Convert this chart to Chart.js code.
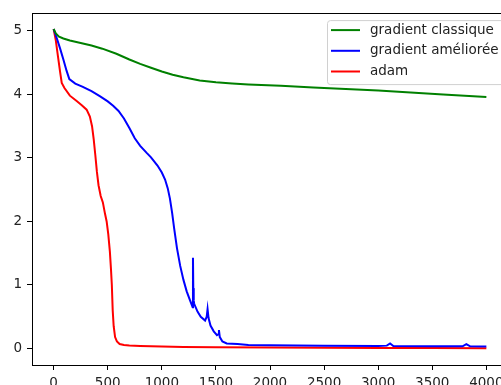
<!DOCTYPE html>
<html lang="fr">
<head>
<meta charset="UTF-8">
<title>Comparaison des descentes de gradient</title>
<script src="https://cdn.jsdelivr.net/npm/chart.js"></script>
<style>
  html, body { margin: 0; padding: 0; overflow: hidden; background: #fff; }
</style>
</head>
<body>
<canvas id="lossChart" width="510" height="385"></canvas>
<script>
// iterations / loss
const classiqueIter = [0, 20, 50, 90, 150, 250, 350, 450, 580, 700, 800, 900, 1000, 1100, 1200, 1350, 1500, 1650, 1800, 2100, 2400, 2700, 3000, 3300, 3600, 4000];
const classiqueLoss = [5.03, 4.96, 4.91, 4.88, 4.85, 4.81, 4.77, 4.72, 4.64, 4.55, 4.48, 4.42, 4.36, 4.31, 4.27, 4.22, 4.19, 4.17, 4.155, 4.135, 4.11, 4.085, 4.06, 4.03, 4.0, 3.96];

const amelioreIter = [0, 30, 60, 90, 120, 145, 200, 270, 350, 430, 500, 550, 600, 650, 700, 750, 800, 860, 900, 960, 1000, 1030, 1055, 1075, 1095, 1115, 1140, 1170, 1200, 1230, 1260, 1285, 1288, 1291, 1295, 1300, 1330, 1360, 1400, 1415, 1423, 1432, 1450, 1480, 1510, 1520, 1528, 1536, 1560, 1600, 1700, 1800, 2000, 2500, 3000, 3080, 3110, 3140, 3500, 3780, 3815, 3850, 4000];
const amelioreLoss = [5.03, 4.88, 4.72, 4.55, 4.37, 4.24, 4.17, 4.12, 4.05, 3.97, 3.89, 3.82, 3.74, 3.62, 3.47, 3.31, 3.19, 3.08, 3.01, 2.88, 2.77, 2.66, 2.52, 2.36, 2.14, 1.88, 1.58, 1.3, 1.08, 0.9, 0.76, 0.65, 1.43, 0.95, 0.75, 0.7, 0.58, 0.50, 0.44, 0.50, 0.62, 0.48, 0.36, 0.27, 0.21, 0.22, 0.29, 0.18, 0.11, 0.08, 0.07, 0.055, 0.05, 0.045, 0.04, 0.045, 0.08, 0.04, 0.035, 0.035, 0.07, 0.035, 0.03];

const adamIter = [0, 20, 40, 60, 75, 100, 150, 210, 260, 305, 335, 355, 370, 385, 400, 415, 435, 455, 475, 490, 505, 520, 530, 538, 546, 555, 568, 585, 610, 650, 700, 800, 1000, 1200, 1500, 2000, 2500, 3000, 3500, 4000];
const adamLoss = [5.03, 4.85, 4.6, 4.35, 4.18, 4.1, 3.98, 3.9, 3.83, 3.76, 3.65, 3.5, 3.3, 3.05, 2.78, 2.57, 2.4, 2.3, 2.12, 2.0, 1.8, 1.52, 1.25, 1.0, 0.6, 0.35, 0.18, 0.11, 0.07, 0.055, 0.048, 0.04, 0.03, 0.025, 0.02, 0.015, 0.012, 0.008, 0.006, 0.005];

const seriesLabels = ['gradient classique', 'gradient améliorée', 'adam'];
const seriesColors = ['#008000', '#0000ff', '#ff0000'];
const xTickValues = [0, 500, 1000, 1500, 2000, 2500, 3000, 3500, 4000];
const yTickValues = [0, 1, 2, 3, 4, 5];

const FONT = { family: 'DejaVu Sans', size: 13.5 };

function toPoints(xs, ys) {
  return xs.map((x, i) => ({ x: x, y: ys[i] }));
}

// matplotlib-style box around the axes
const frame = {
  id: 'frame',
  afterDatasetsDraw(chart) {
    const a = chart.chartArea, ctx = chart.ctx;
    ctx.save();
    ctx.strokeStyle = '#000';
    ctx.lineWidth = 1;
    ctx.strokeRect(Math.round(a.left) + 0.5, Math.round(a.top) + 0.5,
                   Math.round(a.right - a.left), Math.round(a.bottom - a.top));
    ctx.restore();
  }
};

// legend box in the upper right corner
const boxLegend = {
  id: 'boxLegend',
  afterDraw(chart) {
    const ctx = chart.ctx, a = chart.chartArea;
    const left = a.right - 181, top = a.top + 7, w = 178, h = 64;
    ctx.save();
    ctx.beginPath();
    ctx.roundRect(left + 0.5, top + 0.5, w, h, 3);
    ctx.fillStyle = 'rgba(255,255,255,0.8)';
    ctx.fill();
    ctx.strokeStyle = '#d0d0d0';
    ctx.lineWidth = 1;
    ctx.stroke();
    ctx.font = FONT.size + 'px ' + FONT.family;
    ctx.textBaseline = 'middle';
    chart.data.datasets.forEach((ds, i) => {
      const y = top + 10 + i * 20.7;
      ctx.strokeStyle = ds.borderColor;
      ctx.lineWidth = 2;
      ctx.beginPath();
      ctx.moveTo(left + 4, y);
      ctx.lineTo(left + 33, y);
      ctx.stroke();
      ctx.fillStyle = '#222';
      ctx.fillText(ds.label, left + 43, y);
    });
    ctx.restore();
  }
};

const datasets = [
  { label: seriesLabels[0], data: toPoints(classiqueIter, classiqueLoss), borderColor: seriesColors[0] },
  { label: seriesLabels[1], data: toPoints(amelioreIter, amelioreLoss), borderColor: seriesColors[1] },
  { label: seriesLabels[2], data: toPoints(adamIter, adamLoss), borderColor: seriesColors[2] }
].map(d => Object.assign(d, { borderWidth: 2, pointRadius: 0, fill: false, tension: 0 }));

new Chart(document.getElementById('lossChart'), {
  type: 'line',
  data: { datasets: datasets },
  options: {
    responsive: false,
    animation: false,
    devicePixelRatio: 1,
    layout: { padding: { top: 10, right: 2, left: 0, bottom: 0 } },
    plugins: { legend: { display: false }, tooltip: { enabled: false } },
    scales: {
      x: {
        type: 'linear',
        min: -200,
        max: 4200,
        afterBuildTicks: s => { s.ticks = xTickValues.map(v => ({ value: v })); },
        afterFit: s => { s.height = 20; },
        grid: { drawOnChartArea: false, drawTicks: true, tickLength: 5, tickColor: '#000' },
        border: { display: true, color: '#000' },
        ticks: { font: FONT, color: '#222', padding: 5, maxRotation: 0, callback: v => String(v) }
      },
      y: {
        type: 'linear',
        min: -0.26,
        max: 5.28,
        afterBuildTicks: s => { s.ticks = yTickValues.map(v => ({ value: v })); },
        afterFit: s => { s.width = 32; },
        grid: { drawOnChartArea: false, drawTicks: true, tickLength: 5, tickColor: '#000' },
        border: { display: true, color: '#000' },
        ticks: { font: FONT, color: '#222', padding: 5, callback: v => String(v) }
      }
    }
  },
  plugins: [frame, boxLegend]
});
</script>
</body>
</html>
